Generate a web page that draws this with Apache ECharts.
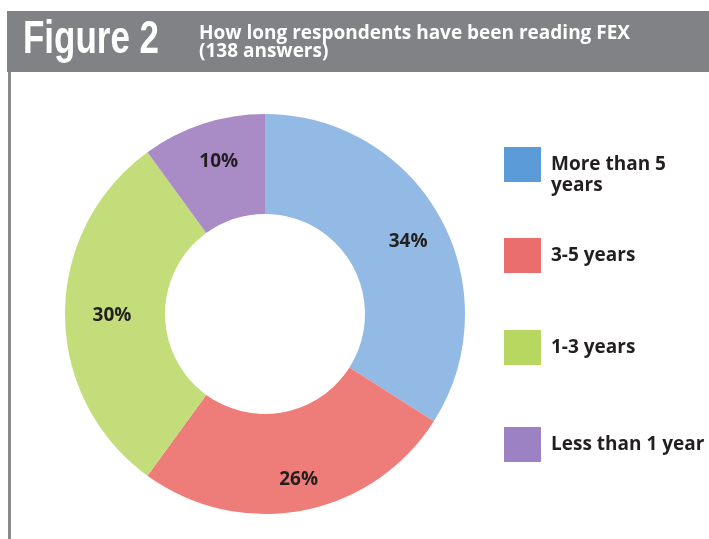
<!DOCTYPE html>
<html><head><meta charset="utf-8">
<script src="https://cdn.jsdelivr.net/npm/echarts@6/dist/echarts.min.js"></script>
<style>html,body{margin:0;padding:0;background:#fff}#c{width:709px;height:539px}</style>
</head><body><div id="c"></div>
<script>
const categories = ['More than 5 years', '3-5 years', '1-3 years', 'Less than 1 year'];
const values = [34, 26, 30, 10];
const sliceColors = ['#93bae5', '#ee7c78', '#c4dd7b', '#a98bc6'];
const legendColors = ['#5b9bd8', '#ea6e6c', '#b7d760', '#9c81c3'];
const legendLabels = ['\nMore than 5\nyears', '3-5 years', '1-3 years', 'Less than 1 year'];
const legendTops = [133, 238, 330, 427];
const labelOffsets = [[9, 1], [5, 15], [0, 2], [1, -7]];

const chart = echarts.init(document.getElementById('c'), null, {renderer: 'canvas'});
const legends = categories.map((c, i) => ({
  orient: 'vertical', left: 504, top: legendTops[i], padding: 0,
  itemWidth: 37, itemHeight: 35, itemGap: 0,
  icon: 'rect',
  data: [{name: c, itemStyle: {color: legendColors[i]}}],
  formatter: () => legendLabels[i],
  textStyle: {fontFamily: 'Open Sans', fontWeight: 'bold', fontSize: 19, color: '#231f20', lineHeight: 21,
    padding: [0, 0, 0, 5]},
  selectedMode: false
}));
chart.setOption({
  animation: false,
  graphic: [
    {type: 'rect', shape: {x: 7, y: 11, width: 702, height: 61}, style: {fill: '#808285'}},
    {type: 'rect', shape: {x: 8, y: 72, width: 3, height: 467}, style: {fill: '#8a8b8e'}},
    {type: 'text', x: 23, y: 17, scaleX: 0.76, style: {text: 'Figure 2', fill: '#fff', font: 'bold 46px "Liberation Sans"'}},
    {type: 'text', x: 199, y: 25, style: {text: 'How long respondents have been reading FEX\n(138 answers)', fill: '#fff', font: 'bold 19px "Open Sans"', lineHeight: 18}}
  ],
  legend: legends,
  series: [{
    type: 'pie',
    center: [265, 314],
    radius: [100, 200],
    startAngle: 90,
    clockwise: true,
    data: categories.map((c, i) => ({name: c, value: values[i], itemStyle: {color: sliceColors[i]}, label: {offset: labelOffsets[i]}})),
    label: {position: 'inside', formatter: '{c}%', fontFamily: 'Open Sans', fontWeight: 'bold', fontSize: 19, color: '#231f20'},
    labelLine: {show: false},
    emphasis: {disabled: true}
  }]
});
</script></body></html>
